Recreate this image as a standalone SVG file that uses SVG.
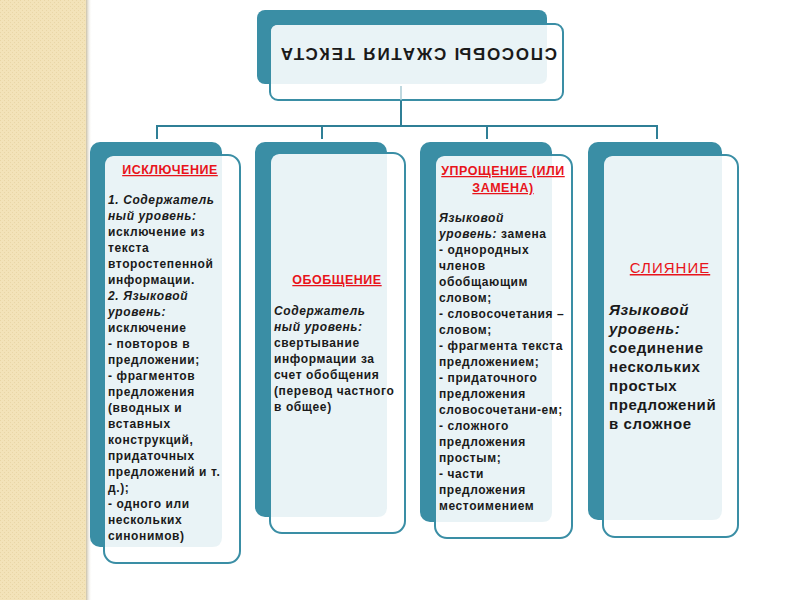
<svg xmlns="http://www.w3.org/2000/svg" width="800" height="600" viewBox="0 0 800 600">
<defs>
<pattern id="dots" width="4" height="4" patternUnits="userSpaceOnUse">
<rect width="4" height="4" fill="#f3e3b9"/>
<rect x="0" y="0" width="1" height="1" fill="#e9d6a6"/>
<rect x="2" y="2" width="1" height="1" fill="#e9d6a6"/>
</pattern>
<linearGradient id="shade" x1="0" x2="1" y1="0" y2="0">
<stop offset="0" stop-color="#c9c0a8"/>
<stop offset="1" stop-color="#ffffff" stop-opacity="0"/>
</linearGradient>
<style>
.back{fill:#3a8ea5}
.frame{fill:#ffffff;stroke:#3a8ea5;stroke-width:2}
.inner{fill:#e9f3f6}
.conn{stroke:#2f7f96;stroke-width:2;fill:none}
text{font-family:"Liberation Sans",Arial,sans-serif;fill:#1a1a1a}
.t{font-size:12px;font-weight:bold;letter-spacing:0.6px}
.it{font-style:italic}
.head{font-size:12.5px;font-weight:bold;letter-spacing:0.5px;fill:#e8141b;text-decoration:underline;text-anchor:middle}
.big{font-size:15px;font-weight:bold;letter-spacing:0.6px}
.title{font-size:17px;font-weight:bold;letter-spacing:1.8px;text-anchor:middle}
</style>
</defs>
<rect x="0" y="0" width="800" height="600" fill="#ffffff"/>
<rect x="0" y="0" width="86" height="600" fill="url(#dots)"/>
<rect x="86" y="0" width="6" height="600" fill="url(#shade)"/>

<g id="connectors">
<line class="conn" x1="401" y1="100" x2="401" y2="127"/>
<line class="conn" x1="157" y1="126" x2="657" y2="126"/>
<line class="conn" x1="157" y1="125" x2="157" y2="139"/>
<line class="conn" x1="322" y1="125" x2="322" y2="139"/>
<line class="conn" x1="487" y1="125" x2="487" y2="139"/>
<line class="conn" x1="657" y1="125" x2="657" y2="139"/>
</g>

<g id="title">
<rect class="back" x="257" y="10" width="290" height="74" rx="8"/>
<rect class="frame" x="270" y="24" width="293" height="76" rx="8"/>
<path class="inner" d="M278 25 H547 V76 Q547 84 539 84 H271 V32 Q271 25 278 25 Z"/>
<line x1="401" y1="86" x2="401" y2="100" stroke="#a9cbd5" stroke-width="1.5"/>
<text class="title" x="418" y="62" transform="rotate(180 418 55)">СПОСОБЫ СЖАТИЯ ТЕКСТА</text>
</g>

<g id="node-exclusion">
<rect class="back" x="90" y="142" width="132" height="405" rx="10"/>
<rect class="frame" x="104" y="155" width="136" height="408" rx="12"/>
<path class="inner" d="M114 156 H222 V537 Q222 547 212 547 H105 V166 Q105 156 114 156 Z"/>
<text class="head" x="170" y="174">ИСКЛЮЧЕНИЕ</text>
<text class="t" x="108">
<tspan x="108" y="204" class="it">1. Содержатель</tspan>
<tspan x="108" y="220" class="it">ный уровень:</tspan>
<tspan x="108" y="236">исключение из</tspan>
<tspan x="108" y="252">текста</tspan>
<tspan x="108" y="268">второстепенной</tspan>
<tspan x="108" y="284">информации.</tspan>
<tspan x="108" y="300" class="it">2. Языковой</tspan>
<tspan x="108" y="316" class="it">уровень:</tspan>
<tspan x="108" y="332">исключение</tspan>
<tspan x="108" y="348">- повторов в</tspan>
<tspan x="108" y="364">предложении;</tspan>
<tspan x="108" y="380">- фрагментов</tspan>
<tspan x="108" y="396">предложения</tspan>
<tspan x="108" y="412">(вводных и</tspan>
<tspan x="108" y="428">вставных</tspan>
<tspan x="108" y="444">конструкций,</tspan>
<tspan x="108" y="460">придаточных</tspan>
<tspan x="108" y="476">предложений и т.</tspan>
<tspan x="108" y="492">д.);</tspan>
<tspan x="108" y="508">- одного или</tspan>
<tspan x="108" y="524">нескольких</tspan>
<tspan x="108" y="540">синонимов)</tspan>
</text>
</g>

<g id="node-generalization">
<rect class="back" x="255" y="142" width="132" height="375" rx="10"/>
<rect class="frame" x="270" y="153" width="135" height="380" rx="12"/>
<path class="inner" d="M280 154 H387 V507 Q387 517 377 517 H271 V164 Q271 154 280 154 Z"/>
<text class="head" x="337" y="284">ОБОБЩЕНИЕ</text>
<text class="t" x="274">
<tspan x="274" y="315" class="it">Содержатель</tspan>
<tspan x="274" y="331" class="it">ный уровень:</tspan>
<tspan x="274" y="347"> свертывание</tspan>
<tspan x="274" y="363">информации за</tspan>
<tspan x="274" y="379">счет обобщения</tspan>
<tspan x="274" y="395">(перевод частного</tspan>
<tspan x="274" y="411">в общее)</tspan>
</text>
</g>

<g id="node-simplification">
<rect class="back" x="420" y="142" width="132" height="380" rx="10"/>
<rect class="frame" x="435" y="155" width="137" height="383" rx="12"/>
<path class="inner" d="M445 156 H552 V512 Q552 522 542 522 H436 V166 Q436 156 445 156 Z"/>
<text class="head" x="503" y="175">УПРОЩЕНИЕ (ИЛИ</text>
<text class="head" x="503" y="192">ЗАМЕНА)</text>
<text class="t" x="439">
<tspan x="439" y="222" class="it">Языковой</tspan>
<tspan x="439" y="238"><tspan class="it">уровень:</tspan> замена</tspan>
<tspan x="439" y="254">- однородных</tspan>
<tspan x="439" y="270">членов</tspan>
<tspan x="439" y="286">обобщающим</tspan>
<tspan x="439" y="302">словом;</tspan>
<tspan x="439" y="318">- словосочетания –</tspan>
<tspan x="439" y="334">словом;</tspan>
<tspan x="439" y="350">- фрагмента текста</tspan>
<tspan x="439" y="366">предложением;</tspan>
<tspan x="439" y="382">- придаточного</tspan>
<tspan x="439" y="398">предложения</tspan>
<tspan x="439" y="414">словосочетани-ем;</tspan>
<tspan x="439" y="430">- сложного</tspan>
<tspan x="439" y="446">предложения</tspan>
<tspan x="439" y="462">простым;</tspan>
<tspan x="439" y="478">- части</tspan>
<tspan x="439" y="494">предложения</tspan>
<tspan x="439" y="510">местоимением</tspan>
</text>
</g>

<g id="node-merge">
<rect class="back" x="588" y="142" width="134" height="378" rx="10"/>
<rect class="frame" x="603" y="155" width="135" height="382" rx="12"/>
<path class="inner" d="M613 156 H722 V510 Q722 520 712 520 H604 V166 Q604 156 613 156 Z"/>
<text class="head" x="670" y="273" style="font-size:15px;font-weight:normal;letter-spacing:1px">СЛИЯНИЕ</text>
<text class="big" x="609">
<tspan x="609" y="315" class="it">Языковой</tspan>
<tspan x="609" y="334" class="it">уровень:</tspan>
<tspan x="609" y="353">соединение</tspan>
<tspan x="609" y="372">нескольких</tspan>
<tspan x="609" y="391">простых</tspan>
<tspan x="609" y="410">предложений</tspan>
<tspan x="609" y="429">в сложное</tspan>
</text>
</g>
</svg>
